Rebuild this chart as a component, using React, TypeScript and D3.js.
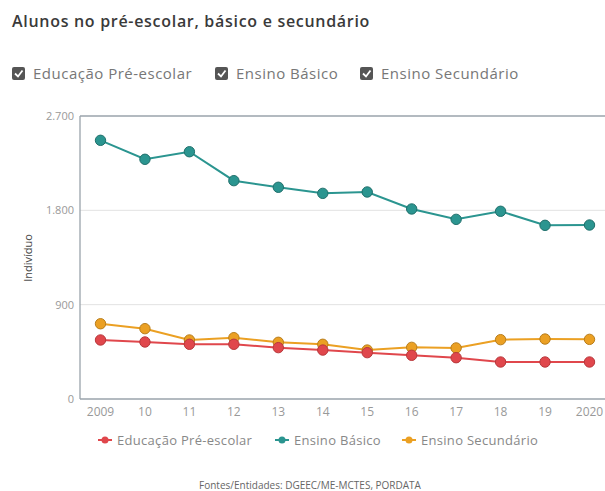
import React from "react";
import * as d3 from "d3";

const years = ["2009", "10", "11", "12", "13", "14", "15", "16", "17", "18", "19", "2020"];
const preEscolar = [563, 544, 522, 522, 490, 467, 442, 417, 394, 353, 353, 353];
const basico = [2468, 2287, 2359, 2083, 2020, 1962, 1975, 1813, 1714, 1791, 1657, 1660];
const secundario = [718, 671, 563, 585, 541, 522, 467, 493, 487, 566, 572, 569];
const yTicks = [0, 900, 1800, 2700];
const seriesNames = ["Educação Pré-escolar", "Ensino Básico", "Ensino Secundário"];
const colors = ["#e0474c", "#2b9590", "#eba023"];
const strokes = ["#b8383c", "#1f6f6b", "#b87d1b"];

const W = 605, H = 491;
const font = "'Open Sans', 'DejaVu Sans', sans-serif";

export default function App() {
  const x = d3.scalePoint<string>().domain(years).range([100.5, 589.5]);
  const y = d3.scaleLinear().domain([0, 2700]).range([399, 116]);
  const all = [preEscolar, basico, secundario];
  const line = d3.line<number>().x((_, i) => x(years[i])!).y((d) => y(d));
  const fmt = (v: number) => d3.format(",")(v).replace(/,/g, ".");
  const drawOrder = [1, 2, 0];
  const checkX = [12, 215, 360];
  const legendX = [98, 275, 402];

  return (
    <svg width={W} height={H} style={{ position: "absolute", left: 0, top: 0, fontFamily: font }}>
      <rect width={W} height={H} fill="#fff" />
      <text x={12} y={27} fontSize={16} fontWeight={600} letterSpacing={0.7} fill="#3a3a3a">
        Alunos no pré-escolar, básico e secundário
      </text>
      {seriesNames.map((n, i) => (
        <g key={n}>
          <rect x={checkX[i]} y={67} width={13} height={13} rx={2} fill="#555" />
          <path d={`M${checkX[i] + 3},${73.5} l3,3 l4.5,-6`} stroke="#fff" strokeWidth={1.8} fill="none" />
          <text x={checkX[i] + 21} y={79} fontSize={15} letterSpacing={0.5} fill="#777">{n}</text>
        </g>
      ))}
      {yTicks.slice(1, 3).map((t) => (
        <line key={t} x1={80} x2={W} y1={y(t)} y2={y(t)} stroke="#e2e2e2" strokeWidth={1} />
      ))}
      <line x1={80} x2={W} y1={y(2700)} y2={y(2700)} stroke="#9aa3ab" strokeWidth={1.3} />
      <line x1={80} x2={80} y1={y(2700)} y2={y(0)} stroke="#9aa3ab" strokeWidth={1.3} />
      <line x1={80} x2={W} y1={y(0)} y2={y(0)} stroke="#9aa3ab" strokeWidth={1.3} />
      {yTicks.map((t) => (
        <text key={t} x={74} y={y(t) + 4} fontSize={11} fill="#999" textAnchor="end">{fmt(t)}</text>
      ))}
      <text transform={`translate(32,258) rotate(-90)`} fontSize={11} fill="#444" textAnchor="middle">
        Indivíduo
      </text>
      {years.map((yr) => (
        <text key={yr} x={x(yr)!} y={416} fontSize={12} fill="#999" textAnchor="middle">{yr}</text>
      ))}
      {drawOrder.map((si) => (
        <g key={si}>
          <path d={line(all[si])!} fill="none" stroke={colors[si]} strokeWidth={2} />
          {all[si].map((v, i) => (
            <circle key={i} cx={x(years[i])!} cy={y(v)} r={5.2} fill={colors[si]} stroke={strokes[si]} strokeWidth={1} />
          ))}
        </g>
      ))}
      {seriesNames.map((n, i) => (
        <g key={n}>
          <line x1={legendX[i]} x2={legendX[i] + 14} y1={440} y2={440} stroke={colors[i]} strokeWidth={2} />
          <circle cx={legendX[i] + 7} cy={440} r={3.5} fill={colors[i]} />
          <text x={legendX[i] + 19} y={444.5} fontSize={13} letterSpacing={0.3} fill="#888">{n}</text>
        </g>
      ))}
      <text x={310} y={489} fontSize={10} fill="#666" textAnchor="middle">
        Fontes/Entidades: DGEEC/ME-MCTES, PORDATA
      </text>
    </svg>
  );
}
